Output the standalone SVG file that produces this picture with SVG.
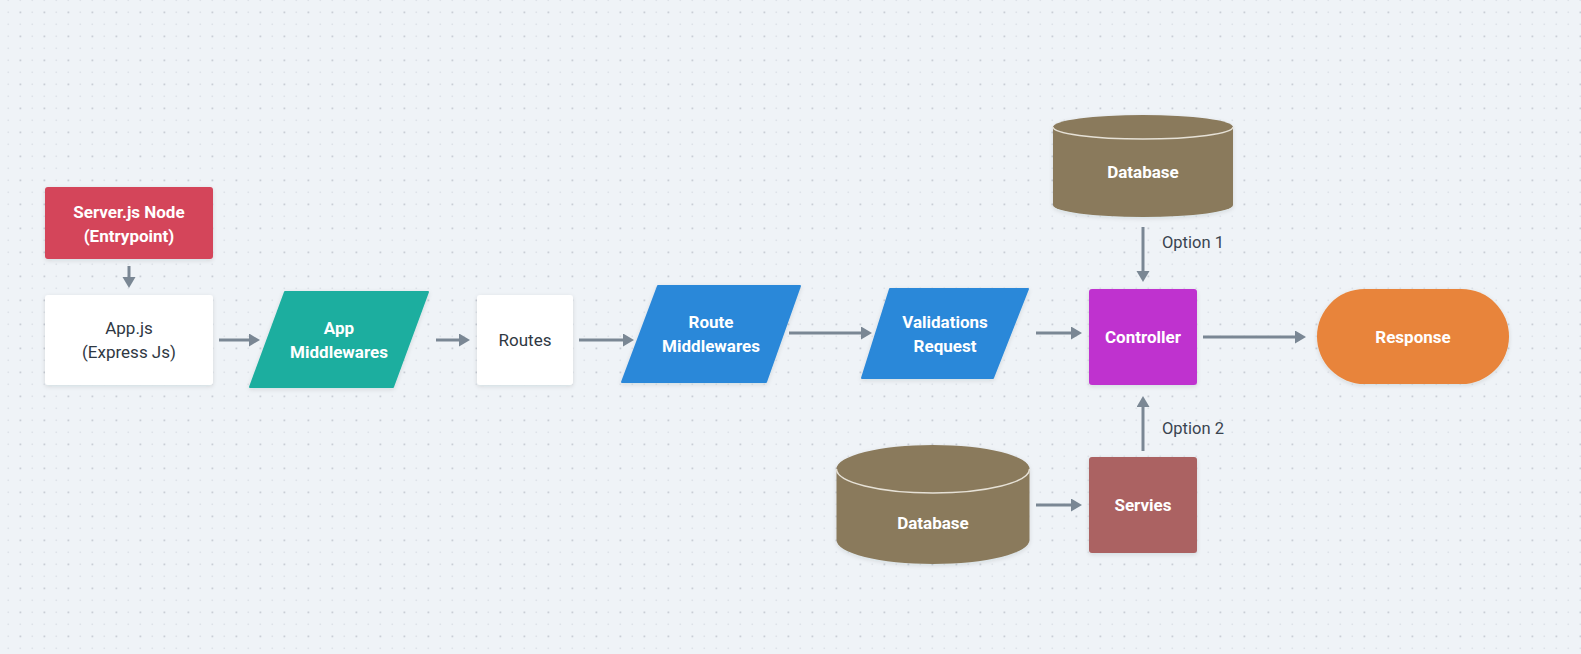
<svg xmlns="http://www.w3.org/2000/svg" width="1581" height="654" viewBox="0 0 1581 654">
<defs>
<pattern id="grid" x="0" y="0" width="24" height="24" patternUnits="userSpaceOnUse">
<rect x="7.5" y="-0.5" width="1.6" height="1.6" fill="#dde2e8"/>
<rect x="19.5" y="-0.5" width="1.6" height="1.6" fill="#dde2e8"/>
<rect x="7.5" y="11.5" width="1.6" height="1.6" fill="#dde2e8"/>
<rect x="19.5" y="11.5" width="1.8" height="1.8" fill="#c9ced6"/>
<rect x="7.5" y="23.5" width="1.6" height="1.6" fill="#dde2e8"/>
<rect x="19.5" y="23.5" width="1.6" height="1.6" fill="#dde2e8"/>
</pattern>
<filter id="sh" x="-10%" y="-10%" width="120%" height="130%">
<feDropShadow dx="0" dy="1.5" stdDeviation="2" flood-color="#1c2a3a" flood-opacity="0.12"/>
</filter>
<marker id="ah" markerUnits="userSpaceOnUse" markerWidth="12" markerHeight="14" refX="3" refY="6.5" orient="auto">
<path d="M0,0 L11,6.5 L0,13 Z" fill="#7a8794"/>
</marker>
<style>
.lbl{font-family:Roboto,"Liberation Sans",sans-serif;font-size:17px;text-anchor:middle}
.w{fill:#ffffff;font-weight:bold}
.d{fill:#2f3843}
.opt{font-family:Roboto,"Liberation Sans",sans-serif;font-size:16.5px;fill:#3a4450}
.c{stroke:#7a8794;stroke-width:3;fill:none;marker-end:url(#ah)}
</style>
</defs>
<rect x="0" y="0" width="1581" height="654" fill="#eff3f7"/>
<rect x="0" y="0" width="1581" height="654" fill="url(#grid)"/>

<g id="connectors">
<line class="c" x1="129" y1="266" x2="129" y2="280"/>
<line class="c" x1="219" y1="340" x2="252" y2="340"/>
<line class="c" x1="436" y1="340" x2="462" y2="340"/>
<line class="c" x1="579" y1="340" x2="626" y2="340"/>
<line class="c" x1="789" y1="333" x2="864" y2="333"/>
<line class="c" x1="1036" y1="333" x2="1074" y2="333"/>
<line class="c" x1="1203" y1="337" x2="1298" y2="337"/>
<line class="c" x1="1143" y1="227" x2="1143" y2="274"/>
<line class="c" x1="1143" y1="451" x2="1143" y2="404"/>
<line class="c" x1="1036" y1="505" x2="1074" y2="505"/>
<text class="opt" x="1162" y="248">Option 1</text>
<text class="opt" x="1162" y="434">Option 2</text>
</g>

<g id="server">
<rect x="45" y="187" width="168" height="72" rx="3" fill="#d4445a" filter="url(#sh)"/>
<text class="lbl w" x="129" y="218">Server.js Node</text>
<text class="lbl w" x="129" y="242">(Entrypoint)</text>
</g>

<g id="appjs">
<rect x="45" y="295" width="168" height="90" rx="3" fill="#ffffff" filter="url(#sh)"/>
<text class="lbl d" x="129" y="334">App.js</text>
<text class="lbl d" x="129" y="358">(Express Js)</text>
</g>

<g id="appmw">
<polygon points="285,292 428,292 393,387 250,387" fill="#1bae9f" stroke="#1bae9f" stroke-width="2" stroke-linejoin="round" filter="url(#sh)"/>
<text class="lbl w" x="339" y="334">App</text>
<text class="lbl w" x="339" y="358">Middlewares</text>
</g>

<g id="routes">
<rect x="477" y="295" width="96" height="90" rx="3" fill="#ffffff" filter="url(#sh)"/>
<text class="lbl d" x="525" y="346">Routes</text>
</g>

<g id="routemw">
<polygon points="658,286 800,286 766,382 622,382" fill="#2b88d9" stroke="#2b88d9" stroke-width="2" stroke-linejoin="round" filter="url(#sh)"/>
<text class="lbl w" x="711" y="328">Route</text>
<text class="lbl w" x="711" y="352">Middlewares</text>
</g>

<g id="validations">
<polygon points="890,289 1028,289 993,378 862,378" fill="#2b88d9" stroke="#2b88d9" stroke-width="2" stroke-linejoin="round" filter="url(#sh)"/>
<text class="lbl w" x="945" y="328">Validations</text>
<text class="lbl w" x="945" y="352">Request</text>
</g>

<g id="controller">
<rect x="1089" y="289" width="108" height="96" rx="3" fill="#bf33cf" filter="url(#sh)"/>
<text class="lbl w" x="1143" y="343">Controller</text>
</g>

<g id="response">
<rect x="1317" y="289" width="192" height="95" rx="47.5" fill="#e8843a" filter="url(#sh)"/>
<text class="lbl w" x="1413" y="343">Response</text>
</g>

<g id="database1">
<path d="M1053,127 A90,12 0 0 1 1233,127 L1233,205 A90,12 0 0 1 1053,205 Z" fill="#8a7a5c" filter="url(#sh)"/>
<path d="M1053,127 A90,12 0 0 0 1233,127" fill="none" stroke="#e6e1d6" stroke-width="1.5"/>
<text class="lbl w" x="1143" y="178">Database</text>
</g>

<g id="services">
<rect x="1089" y="457" width="108" height="96" rx="3" fill="#ab6262" filter="url(#sh)"/>
<text class="lbl w" x="1143" y="511">Servies</text>
</g>

<g id="database2">
<path d="M836.5,469 A96.5,24 0 0 1 1029.5,469 L1029.5,540 A96.5,24 0 0 1 836.5,540 Z" fill="#8a7a5c" filter="url(#sh)"/>
<path d="M836.5,469 A96.5,24 0 0 0 1029.5,469" fill="none" stroke="#e6e1d6" stroke-width="1.5"/>
<text class="lbl w" x="933" y="529">Database</text>
</g>
</svg>
